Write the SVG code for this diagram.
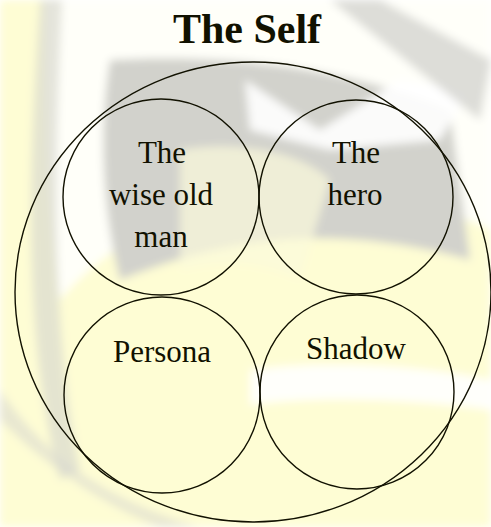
<svg xmlns="http://www.w3.org/2000/svg" width="491" height="527" viewBox="0 0 491 527">
<defs>
<style>
.c{fill:none;stroke:#111100;stroke-width:1.4}
.t{font-family:"Liberation Serif","Times New Roman",serif;font-size:31px;fill:#111100;text-anchor:middle}
.h{font-family:"Liberation Serif","Times New Roman",serif;font-size:42px;font-weight:bold;fill:#111100;text-anchor:middle}
</style>
<filter id="b" x="-20%" y="-20%" width="140%" height="140%"><feGaussianBlur stdDeviation="4"/></filter>
</defs>
<g id="watermark" filter="url(#b)">
<rect width="491" height="527" fill="#FEFDD4"/>
<path d="M45 0 H491 V230 C430 200 330 190 250 200 C170 210 100 250 60 300 C45 200 45 100 45 0 Z" fill="#FFFFFF" opacity="0.85"/>
<path d="M110 60 C200 55 330 60 450 110 L470 260 C400 240 330 235 280 240 C220 245 170 260 120 280 C100 200 100 120 110 60 Z" fill="#D2D2CC"/>
<path d="M245 80 L320 130 L400 80 L470 90 L440 140 L330 150 L250 130 Z" fill="#FFFFFF" opacity="0.9"/>
<path d="M330 0 L480 120 L491 60 L380 0 Z" fill="#D5D5CF" opacity="0.8"/>
<path d="M180 150 C230 140 300 150 330 180 L300 280 C260 260 220 260 180 270 Z" fill="#FBFADC" opacity="0.7"/>
<path d="M250 370 C320 360 420 365 491 380 V410 C420 400 320 395 250 405 Z" fill="#FFFFFF" opacity="0.9"/>
<path d="M40 0 C30 150 20 330 60 480 L80 470 C50 330 55 150 62 0 Z" fill="#D8D8CE" opacity="0.7"/>
<path d="M0 390 C40 450 100 500 200 527 L160 527 C90 500 30 450 0 420 Z" fill="#D8D8CE" opacity="0.6"/>
</g>
<g id="self">
<ellipse class="c" cx="253" cy="292" rx="238" ry="230"/>
<text class="h" x="247" y="43">The Self</text>
</g>
<g id="wise-old-man">
<circle class="c" cx="161" cy="197" r="98"/>
<text class="t" x="162" y="163">The</text>
<text class="t" x="161" y="205">wise old</text>
<text class="t" x="161" y="247">man</text>
</g>
<g id="hero">
<circle class="c" cx="356" cy="197" r="97"/>
<text class="t" x="356" y="163">The</text>
<text class="t" x="355" y="205">hero</text>
</g>
<g id="persona">
<circle class="c" cx="162" cy="395" r="98"/>
<text class="t" x="162" y="362">Persona</text>
</g>
<g id="shadow">
<circle class="c" cx="357" cy="392" r="97"/>
<text class="t" x="356" y="359">Shadow</text>
</g>
<g id="connectors"/>
</svg>
